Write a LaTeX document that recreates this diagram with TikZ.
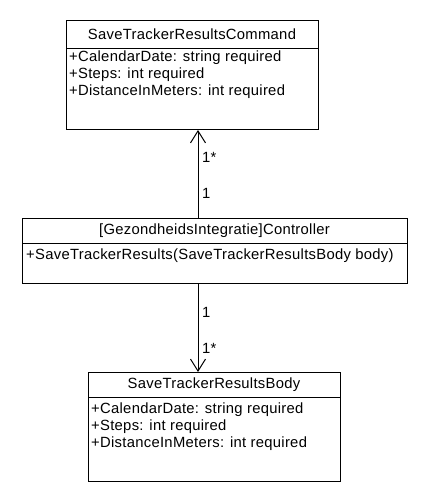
\documentclass[tikz,border=0pt]{standalone}
\usepackage{fontspec}
\setmainfont[LetterSpace=2]{Liberation Sans}
\usetikzlibrary{arrows.meta}
\begin{document}
\begin{tikzpicture}[x=1pt,y=1pt,
  box/.style={draw,line width=1pt,rectangle,anchor=north west,inner sep=0pt},
  txt/.style={inner sep=0pt,font=\fontsize{14.8}{17}\selectfont},
  lbl/.style={inner sep=0pt,anchor=west,font=\fontsize{14.8}{17}\selectfont},
  rule/.style={line width=1pt},
  assoc/.style={line width=1pt,-{Straight Barb[length=12pt,width=15pt,line width=1pt]}}]
\useasboundingbox (0,0) rectangle (426,503);
% top class
\node[box,minimum width=252,minimum height=109] (cmd) at (66,483) {};
\coordinate (cmddl) at (66,454);
\coordinate (cmddr) at (318,454);
\draw[rule] (cmddl) -- (cmddr);
\node[txt] (cmdt) at (192,468.5) {SaveTrackerResultsCommand};
\node[txt,anchor=west] (cmda1) at (69,445) {+CalendarDate: string required};
\node[txt,anchor=west] (cmda2) at (69,428) {+Steps: int required};
\node[txt,anchor=west] (cmda3) at (69,411) {+DistanceInMeters: int required};
% controller
\node[box,minimum width=385,minimum height=65] (ctrl) at (22,285) {};
\coordinate (ctrldl) at (22,259);
\coordinate (ctrldr) at (407,259);
\draw[rule] (ctrldl) -- (ctrldr);
\node[txt] (ctrlt) at (214.5,272) {[GezondheidsIntegratie]Controller};
\node[txt,anchor=west] (ctrlm) at (26,247) {+SaveTrackerResults(SaveTrackerResultsBody body)};
% bottom class
\node[box,minimum width=252,minimum height=109] (body) at (88,131) {};
\coordinate (bodydl) at (88,105);
\coordinate (bodydr) at (340,105);
\draw[rule] (bodydl) -- (bodydr);
\node[txt] (bodyt) at (214,118) {SaveTrackerResultsBody};
\node[txt,anchor=west] (bodya1) at (91,93) {+CalendarDate: string required};
\node[txt,anchor=west] (bodya2) at (91,76) {+Steps: int required};
\node[txt,anchor=west] (bodya3) at (91,59) {+DistanceInMeters: int required};
% connectors
\coordinate (lx) at (198,0);
\draw[assoc] (ctrl.north -| lx) -- (cmd.south -| lx);
\draw[assoc] (ctrl.south -| lx) -- (body.north -| lx);
\node[lbl] (l1) at (202,346) {1*};
\node[lbl] (l2) at (202,310) {1};
\node[lbl] (l3) at (202,191) {1};
\node[lbl] (l4) at (202,155) {1*};
\end{tikzpicture}
\end{document}
